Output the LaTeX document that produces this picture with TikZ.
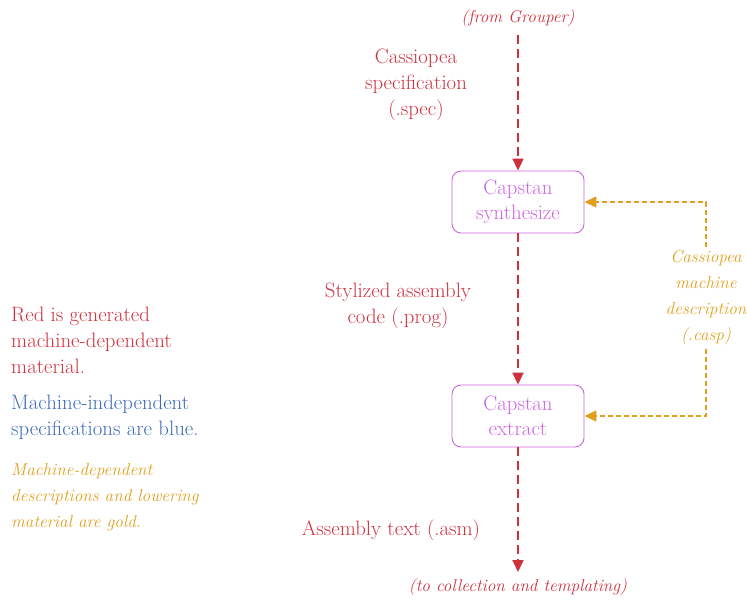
\documentclass[tikz,border=0pt]{standalone}
\usepackage{fontspec}
\usetikzlibrary{arrows.meta}
\definecolor{cred}{RGB}{204,50,62}
\definecolor{cblue}{RGB}{62,108,180}
\definecolor{cgold}{RGB}{224,160,30}
\definecolor{cviolet}{RGB}{205,100,225}
\tikzset{
  txt/.style={font=\rmfamily\fontsize{20.8}{26}\selectfont, align=center, inner sep=0pt},
  itxt/.style={font=\rmfamily\fontsize{17.2}{26}\selectfont\itshape, align=center, inner sep=0pt},
  procbox/.style={draw=cviolet, text=cviolet, rounded corners=9pt, minimum width=132pt, minimum height=62pt, line width=0.9pt, font=\rmfamily\fontsize{20.8}{25}\selectfont, align=center, inner sep=0pt},
  redflow/.style={draw=cred, line width=2pt, dash pattern=on 9pt off 5pt, -{Triangle[length=12pt,width=11pt]}},
  goldflow/.style={draw=cgold, line width=1.6pt, dash pattern=on 5pt off 3pt, -{Triangle[length=12pt,width=11pt]}},
}
\begin{document}
\begin{tikzpicture}[x=1pt,y=1pt]
\useasboundingbox (0,0) rectangle (747,603);
% flow
\node[itxt, text=cred] (from) at (518,585) {(from Grouper)};
\coordinate (start) at (518,568);
\node[procbox] (synth) at (518,401) {Capstan\\synthesize};
\node[procbox] (extract) at (518,187) {Capstan\\extract};
\coordinate (finish) at (518,31);
\node[itxt, text=cred] (to) at (518,16) {(to collection and templating)};
\node[txt, text=cred] (spec) at (416,518) {Cassiopea\\specification\\(.spec)};
\node[txt, text=cred] (prog) at (398,297) {Stylized assembly\\code (.prog)};
\node[txt, text=cred] (asm) at (391,73) {Assembly text (.asm)};
\node[itxt, text=cgold, inner sep=4pt] (casp) at (706,305) {Cassiopea\\machine\\description\\(.casp)};
\draw[redflow] (start) -- (synth.north);
\draw[redflow] (synth.south) -- (extract.north);
\draw[redflow] (extract.south) -- (finish);
\draw[goldflow] (casp.north) |- (synth.east);
\draw[goldflow] (casp.south) |- (extract.east);
% legend
\node[txt, text=cred, align=left, anchor=west] (leg1) at (11,263) {Red is generated\\machine-dependent\\material.};
\node[txt, text=cblue, align=left, anchor=west] (leg2) at (11,186) {Machine-independent\\specifications are blue.};
\node[itxt, text=cgold, align=left, anchor=west] (leg3) at (11,106) {Machine-dependent\\descriptions and lowering\\material are gold.};
\end{tikzpicture}
\end{document}
